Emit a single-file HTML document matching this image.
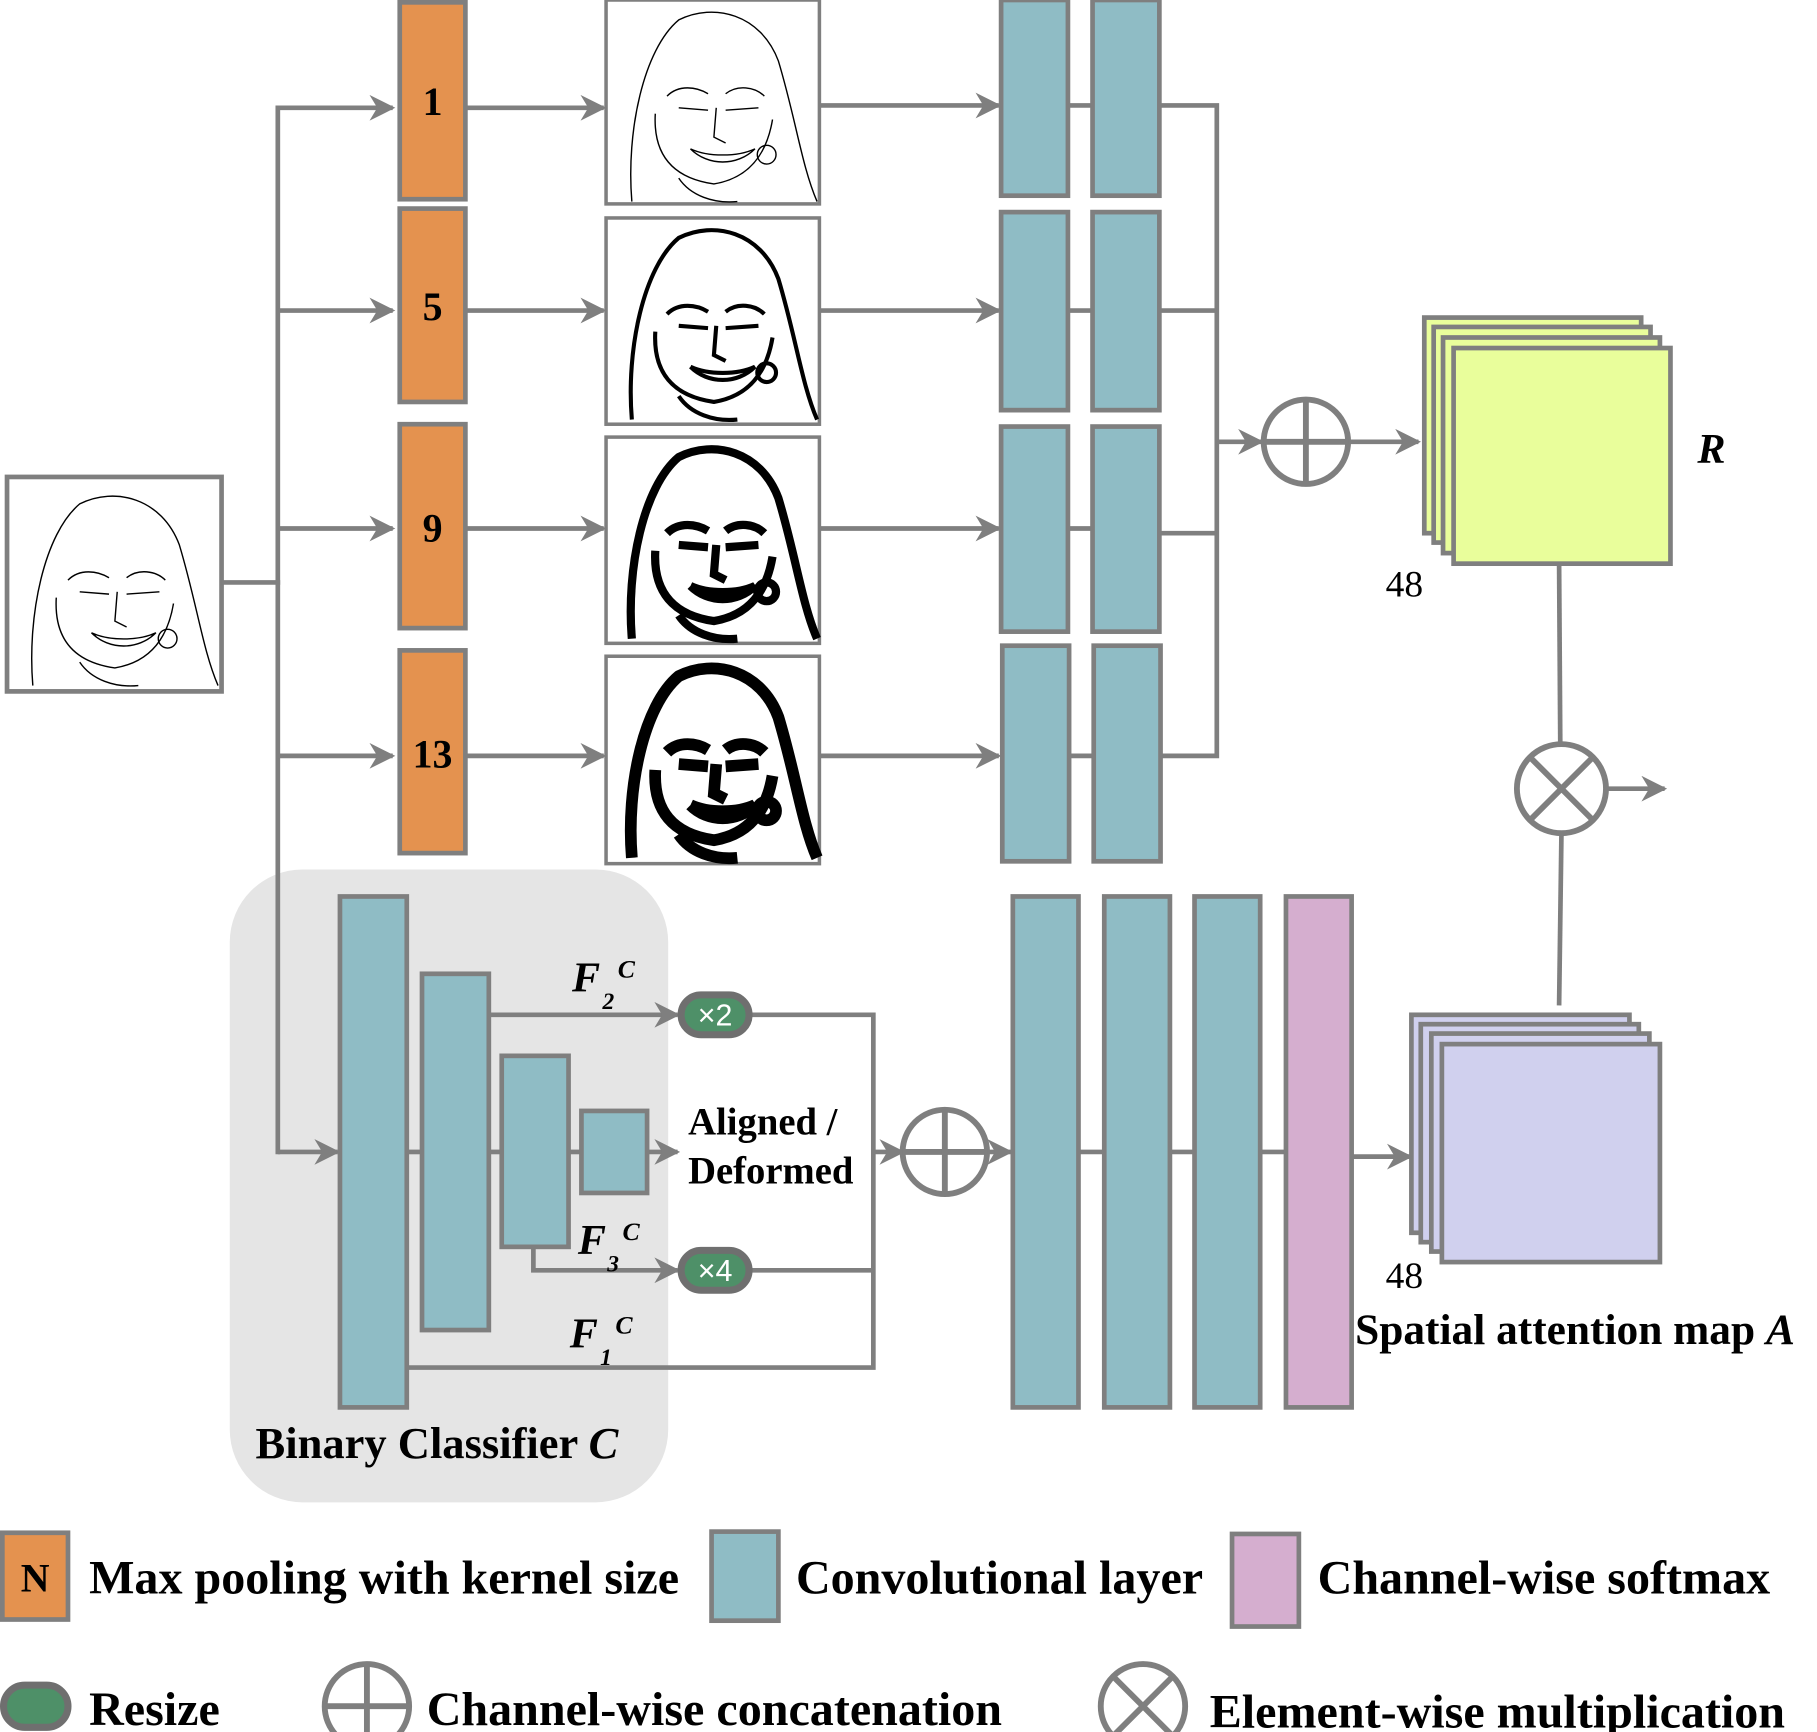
<!DOCTYPE html>
<html><head><meta charset="utf-8"><style>
html,body{margin:0;padding:0;background:#fff}
svg{display:block}
text{font-family:"Liberation Serif",serif}
</style></head><body>
<svg width="1817" height="1732" viewBox="0 0 1550 1478" preserveAspectRatio="none" xmlns="http://www.w3.org/2000/svg">
<defs>
<marker id="a" viewBox="0 0 10 10" refX="9" refY="5" markerWidth="22" markerHeight="22" markerUnits="userSpaceOnUse" orient="auto"><path d="M0,0 L10,5 L0,10 L3,5 z" fill="#7f7f7f"/></marker>
<g id="face">
<path d="M20,170 C15,110 30,40 60,15 C90,0 130,10 145,50 C160,100 165,140 178,170" fill="none"/>
<path d="M50,80 C60,70 75,72 85,78 M100,78 C110,70 125,72 133,80" fill="none"/>
<path d="M60,90 L85,92 M100,92 L128,90" fill="none"/>
<path d="M92,90 L90,115 L100,120" fill="none"/>
<path d="M70,125 C85,140 110,140 125,125 C110,132 85,132 70,125" fill="none"/>
<path d="M40,95 C38,130 55,150 90,155 C120,150 135,130 140,100" fill="none"/>
<circle cx="135" cy="130" r="8" fill="none"/>
<path d="M60,150 C70,165 90,172 110,170" fill="none"/>
</g>
</defs>
<rect x="196" y="742" width="374" height="540" rx="62" fill="#e5e5e5"/>
<g stroke="#7f7f7f" stroke-width="4" fill="none">
<rect x="6" y="407" width="183" height="183" fill="#fff"/>
<line x1="189" y1="497" x2="239" y2="497"/>
<line x1="237" y1="90" x2="237" y2="985"/>
<line x1="237" y1="92" x2="335" y2="92" marker-end="url(#a)"/>
<line x1="237" y1="265" x2="335" y2="265" marker-end="url(#a)"/>
<line x1="237" y1="451" x2="335" y2="451" marker-end="url(#a)"/>
<line x1="237" y1="645" x2="335" y2="645" marker-end="url(#a)"/>
<line x1="397" y1="92" x2="515" y2="92" marker-end="url(#a)"/>
<line x1="397" y1="265" x2="515" y2="265" marker-end="url(#a)"/>
<line x1="397" y1="451" x2="515" y2="451" marker-end="url(#a)"/>
<line x1="397" y1="645" x2="515" y2="645" marker-end="url(#a)"/>
<line x1="699" y1="90" x2="852" y2="90" marker-end="url(#a)"/>
<line x1="699" y1="265" x2="852" y2="265" marker-end="url(#a)"/>
<line x1="699" y1="451" x2="852" y2="451" marker-end="url(#a)"/>
<line x1="699" y1="645" x2="852" y2="645" marker-end="url(#a)"/>
<line x1="911" y1="90" x2="932" y2="90"/><line x1="911" y1="265" x2="932" y2="265"/>
<line x1="911" y1="451" x2="932" y2="451"/><line x1="911" y1="645" x2="932" y2="645"/>
<polyline points="989,90 1038,90 1038,645 989,645"/>
<line x1="989" y1="265" x2="1038" y2="265"/><line x1="989" y1="455" x2="1038" y2="455"/>
<line x1="1038" y1="377" x2="1076" y2="377" marker-end="url(#a)"/>
<line x1="1150" y1="377" x2="1210" y2="377" marker-end="url(#a)"/>
<line x1="1330" y1="481" x2="1331" y2="635"/>
<line x1="1332" y1="711" x2="1330" y2="858"/>
<line x1="1370" y1="673" x2="1420" y2="673" marker-end="url(#a)"/>
</g>
<g stroke="#7f7f7f" stroke-width="4" fill="#e4924f">
<rect x="341" y="2" width="56" height="168"/>
<rect x="341" y="178" width="56" height="165"/>
<rect x="341" y="362" width="56" height="174"/>
<rect x="341" y="555" width="56" height="173"/>
</g>
<g font-size="34" font-weight="bold" text-anchor="middle">
<text x="369" y="98">1</text><text x="369" y="273">5</text><text x="369" y="462">9</text><text x="369" y="655">13</text>
</g>
<g stroke="#7f7f7f" stroke-width="3" fill="#fff">
<rect x="517" y="0" width="182" height="174"/>
<rect x="517" y="186" width="182" height="176"/>
<rect x="517" y="373" width="182" height="176"/>
<rect x="517" y="560" width="182" height="177"/>
</g>
<g stroke="#000">
<use href="#face" x="8" y="415" stroke-width="1.2"/>
<use href="#face" x="519" y="2" stroke-width="1.2"/>
<use href="#face" x="519" y="188" stroke-width="3.5"/>
<use href="#face" x="519" y="375" stroke-width="7"/>
<use href="#face" x="519" y="562" stroke-width="10"/>
</g>
<g stroke="#7f7f7f" stroke-width="4" fill="#8fbcc5">
<rect x="854" y="0" width="57" height="167"/><rect x="932" y="0" width="57" height="167"/>
<rect x="854" y="181" width="57" height="169"/><rect x="932" y="181" width="57" height="169"/>
<rect x="854" y="364" width="57" height="175"/><rect x="932" y="364" width="57" height="175"/>
<rect x="855" y="551" width="57" height="184"/><rect x="933" y="551" width="57" height="184"/>
</g>
<g stroke="#7f7f7f" stroke-width="5" fill="#fff">
<g><circle cx="1114" cy="377" r="36"/><line x1="1078" y1="377" x2="1150" y2="377"/><line x1="1114" y1="341" x2="1114" y2="413"/></g>
<g><circle cx="1332" cy="673" r="38"/><line x1="1305" y1="646" x2="1359" y2="700"/><line x1="1359" y1="646" x2="1305" y2="700"/></g>
</g>
<g stroke="#7f7f7f" stroke-width="4" fill="#e9fe9b">
<rect x="1215" y="271" width="185" height="184"/>
<rect x="1223" y="279" width="185" height="184"/>
<rect x="1231" y="288" width="185" height="184"/>
<rect x="1240" y="297" width="185" height="184"/>
</g>
<text x="1460" y="395" font-size="36" font-weight="bold" font-style="italic" text-anchor="middle">R</text>
<text x="1198" y="509" font-size="32" text-anchor="middle">48</text>
<g stroke="#7f7f7f" stroke-width="4" fill="none">
<line x1="237" y1="983" x2="288" y2="983" marker-end="url(#a)"/>
<line x1="347" y1="983" x2="360" y2="983"/><line x1="417" y1="983" x2="428" y2="983"/><line x1="485" y1="983" x2="496" y2="983"/>
<line x1="552" y1="983" x2="578" y2="983" marker-end="url(#a)"/>
<line x1="417" y1="866" x2="578" y2="866" marker-end="url(#a)"/>
<polyline points="455,1064 455,1084 578,1084" marker-end="url(#a)"/>
<polyline points="640,866 745,866 745,1167 347,1167"/>
<line x1="640" y1="1084" x2="745" y2="1084"/>
<line x1="745" y1="983" x2="770" y2="983" marker-end="url(#a)"/>
<line x1="842" y1="983" x2="862" y2="983" marker-end="url(#a)"/>
<line x1="920" y1="983" x2="942" y2="983"/><line x1="998" y1="983" x2="1019" y2="983"/><line x1="1075" y1="983" x2="1097" y2="983"/>
<line x1="1153" y1="987" x2="1203" y2="987" marker-end="url(#a)"/>
</g>
<g stroke="#7f7f7f" stroke-width="4" fill="#8fbcc5">
<rect x="290" y="765" width="57" height="436"/>
<rect x="360" y="831" width="57" height="304"/>
<rect x="428" y="901" width="57" height="163"/>
<rect x="496" y="948" width="56" height="70"/>
<rect x="864" y="765" width="56" height="436"/>
<rect x="942" y="765" width="56" height="436"/>
<rect x="1019" y="765" width="56" height="436"/>
<rect x="1097" y="765" width="56" height="436" fill="#d5aecf"/>
</g>
<g stroke="#6f6f6f" stroke-width="6" fill="#4e9068">
<rect x="581" y="849" width="58" height="34" rx="17"/>
<rect x="581" y="1067" width="58" height="34" rx="17"/>
</g>
<g font-size="26" fill="#fff" text-anchor="middle">
<text x="610" y="875" style="font-family:'Liberation Sans',sans-serif">×2</text>
<text x="610" y="1093" style="font-family:'Liberation Sans',sans-serif">×4</text>
</g>
<g font-weight="bold" font-style="italic">
<text x="488" y="846" font-size="36">F</text><text x="514" y="861" font-size="20">2</text><text x="527" y="834" font-size="22">C</text>
<text x="493" y="1070" font-size="36">F</text><text x="518" y="1085" font-size="20">3</text><text x="531" y="1058" font-size="22">C</text>
<text x="486" y="1150" font-size="36">F</text><text x="512" y="1165" font-size="20">1</text><text x="525" y="1138" font-size="22">C</text>
</g>
<g font-size="33" font-weight="bold">
<text x="587" y="968">Aligned /</text>
<text x="587" y="1010">Deformed</text>
<text x="218" y="1244" font-size="38">Binary Classifier <tspan font-style="italic">C</tspan></text>
</g>
<g stroke="#7f7f7f" stroke-width="5" fill="#fff">
<g><circle cx="806" cy="983" r="36"/><line x1="770" y1="983" x2="842" y2="983"/><line x1="806" y1="947" x2="806" y2="1019"/></g>
</g>
<g stroke="#7f7f7f" stroke-width="4" fill="#d0d0ee">
<rect x="1204" y="866" width="186" height="186"/>
<rect x="1212" y="874" width="186" height="186"/>
<rect x="1221" y="882" width="186" height="186"/>
<rect x="1230" y="891" width="186" height="186"/>
</g>
<text x="1198" y="1099" font-size="32" text-anchor="middle">48</text>
<text x="1156" y="1147" font-size="37" font-weight="bold">Spatial attention map <tspan font-style="italic">A</tspan></text>
<g>
<rect x="2" y="1308" width="56" height="74" fill="#e4924f" stroke="#7f7f7f" stroke-width="4"/>
<text x="30" y="1358" font-size="34" font-weight="bold" text-anchor="middle">N</text>
<text x="76" y="1360" font-size="41" font-weight="bold">Max pooling with kernel size</text>
<rect x="607" y="1307" width="57" height="76" fill="#8fbcc5" stroke="#7f7f7f" stroke-width="4"/>
<text x="679" y="1360" font-size="41" font-weight="bold">Convolutional layer</text>
<rect x="1051" y="1309" width="57" height="79" fill="#d5aecf" stroke="#7f7f7f" stroke-width="4"/>
<text x="1124" y="1360" font-size="41" font-weight="bold">Channel-wise softmax</text>
<rect x="3" y="1438" width="55" height="36" rx="18" fill="#4e9068" stroke="#6f6f6f" stroke-width="6"/>
<text x="76" y="1472" font-size="41" font-weight="bold">Resize</text>
<g stroke="#7f7f7f" stroke-width="5" fill="#fff"><circle cx="313" cy="1456" r="36"/><line x1="277" y1="1456" x2="349" y2="1456"/><line x1="313" y1="1420" x2="313" y2="1492"/></g>
<text x="364" y="1472" font-size="41" font-weight="bold">Channel-wise concatenation</text>
<g stroke="#7f7f7f" stroke-width="5" fill="#fff"><circle cx="975" cy="1456" r="36"/><line x1="950" y1="1431" x2="1000" y2="1481"/><line x1="1000" y1="1431" x2="950" y2="1481"/></g>
<text x="1032" y="1474" font-size="41" font-weight="bold">Element-wise multiplication</text>
</g>
</svg>
</body></html>
